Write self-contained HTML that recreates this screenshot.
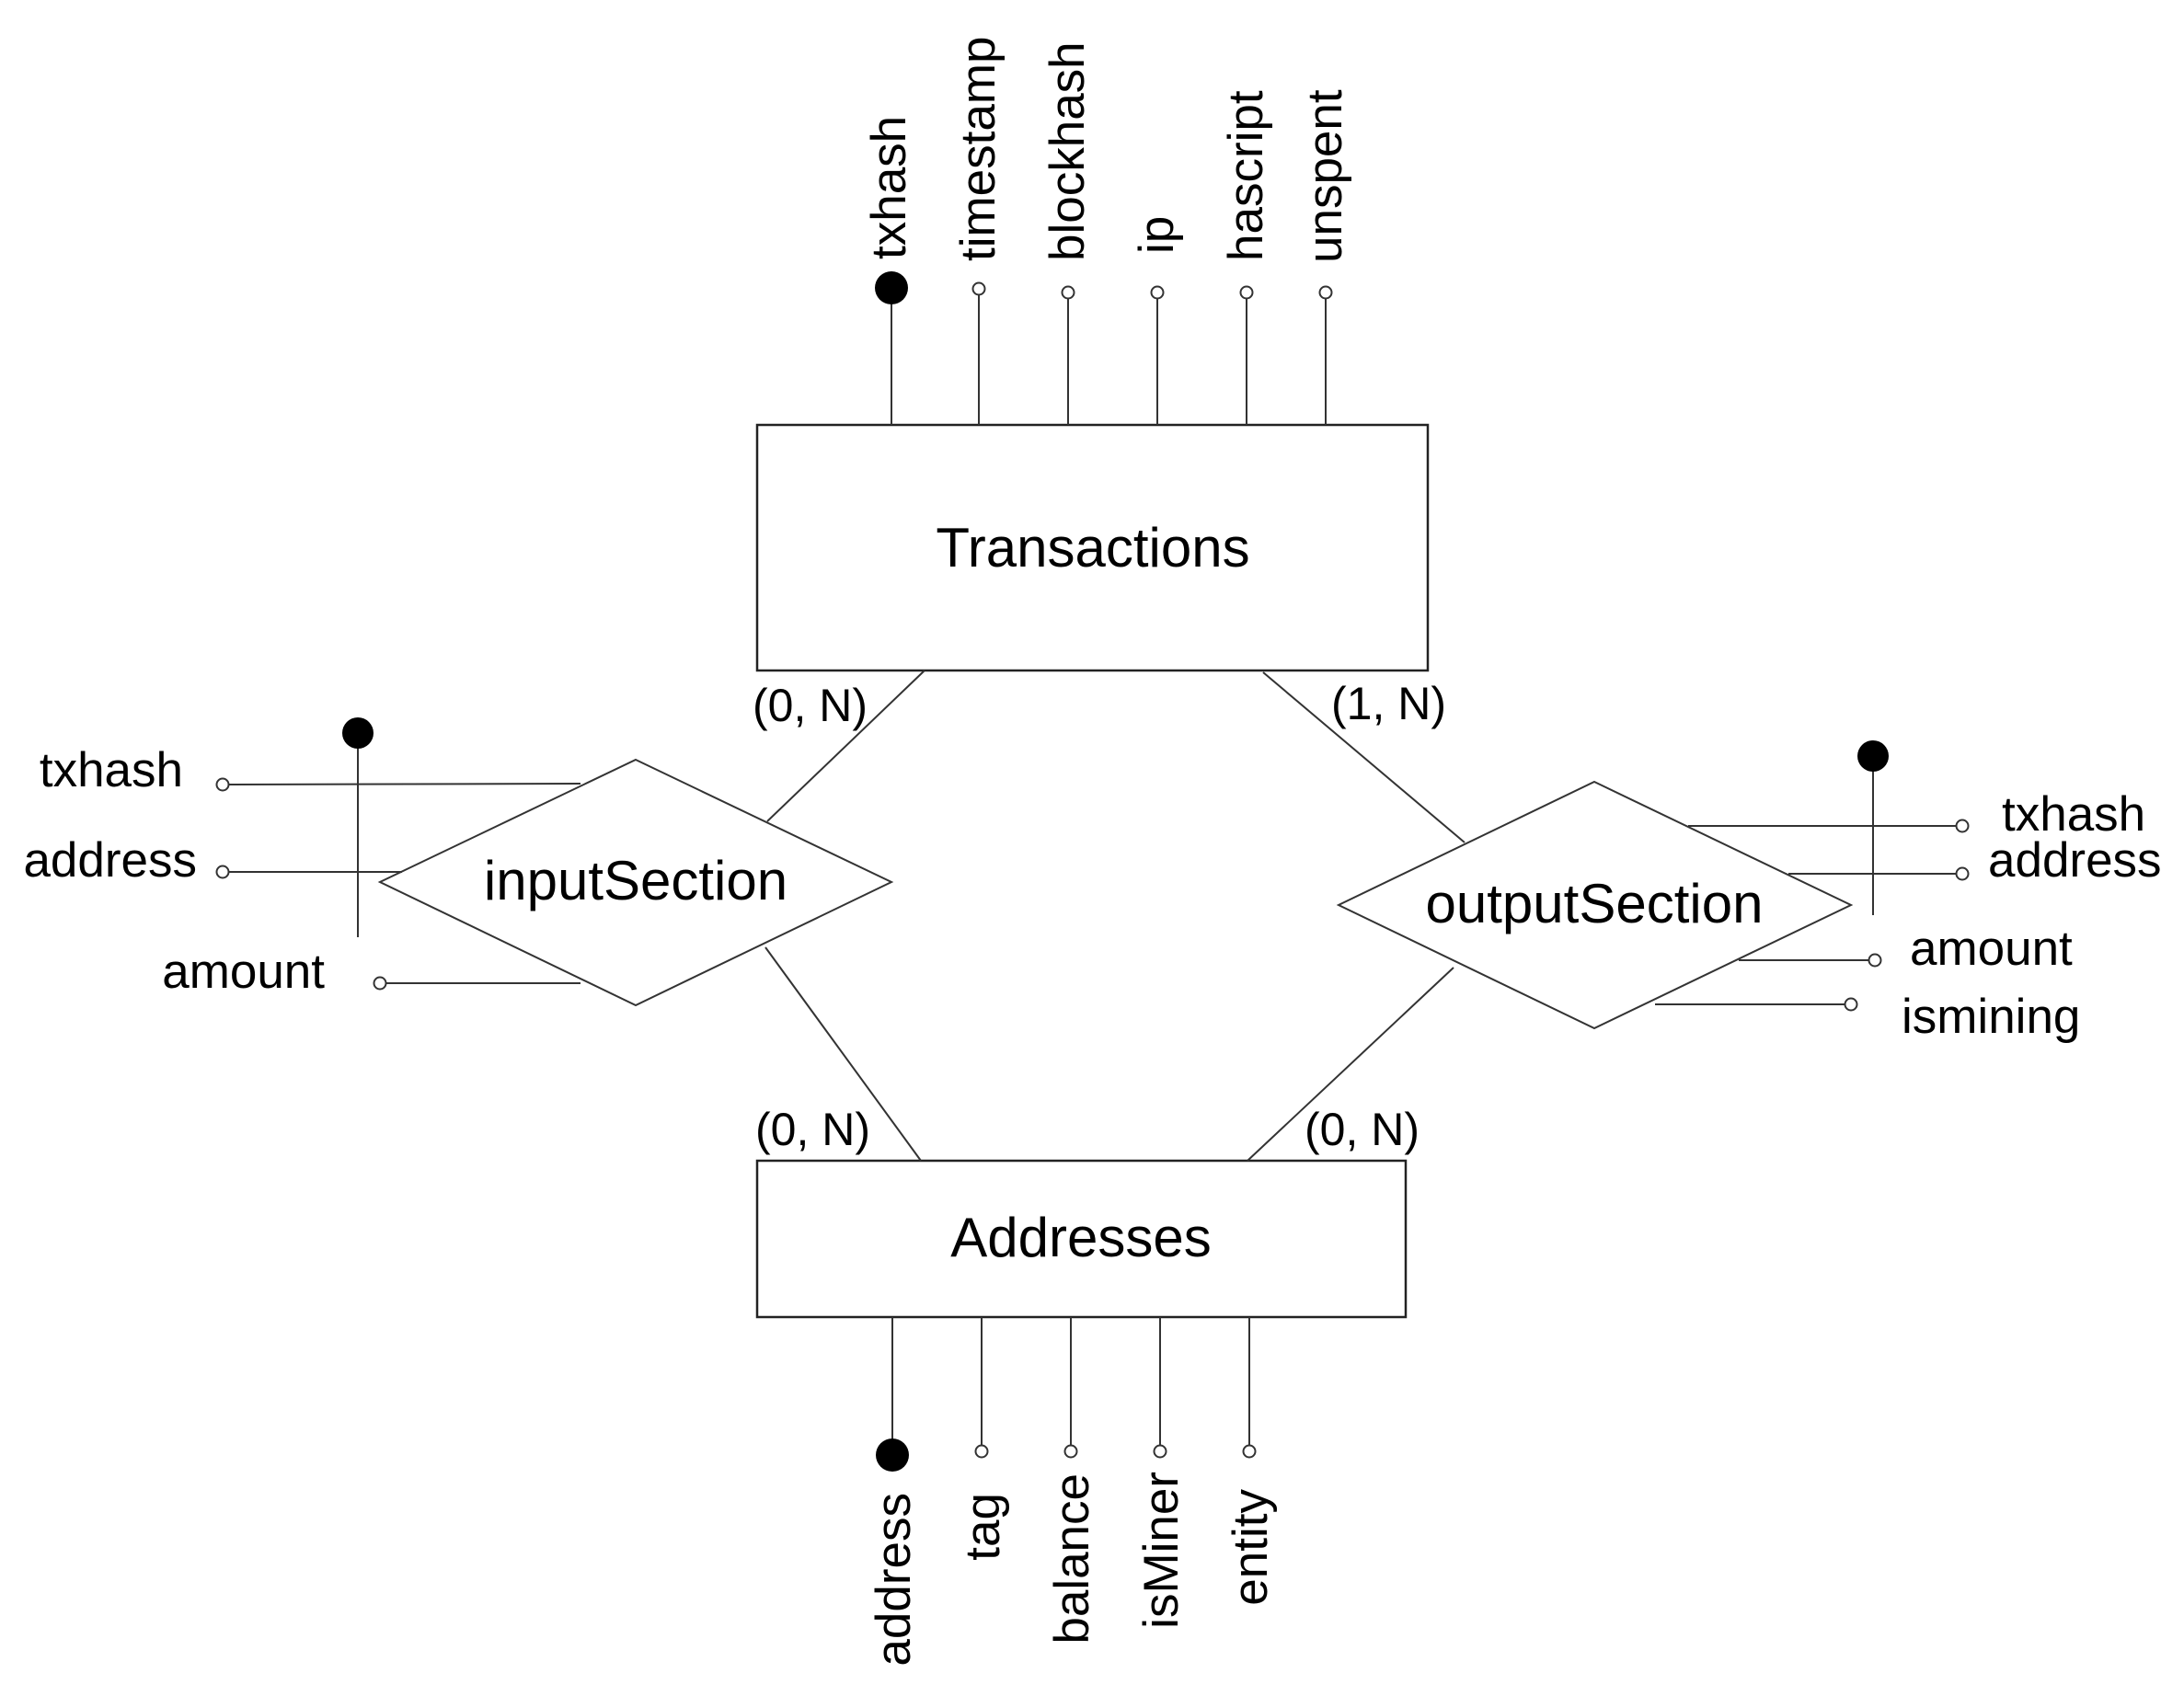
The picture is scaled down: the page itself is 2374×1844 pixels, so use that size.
<!DOCTYPE html>
<html><head><meta charset="utf-8"><style>
html,body{margin:0;padding:0;background:#fff;}
svg{display:block;}
text{font-family:"Liberation Sans",Arial,sans-serif;fill:#000;}
</style></head><body>
<svg width="2374" height="1844" viewBox="0 0 2374 1844" xmlns="http://www.w3.org/2000/svg">
<g stroke="#333" stroke-width="2" fill="none">
  <!-- Transactions -->
  <rect x="823" y="462" width="729" height="267" fill="#fff" stroke="#222" stroke-width="2.5"/>
  <line x1="969" y1="462" x2="969" y2="313"/>
  <line x1="1064" y1="462" x2="1064" y2="318"/>
  <line x1="1161" y1="462" x2="1161" y2="318"/>
  <line x1="1258" y1="462" x2="1258" y2="318"/>
  <line x1="1355" y1="462" x2="1355" y2="318"/>
  <line x1="1441" y1="462" x2="1441" y2="318"/>
  <!-- Addresses -->
  <rect x="823" y="1262" width="705" height="170" fill="#fff" stroke="#222" stroke-width="2.5"/>
  <line x1="970" y1="1432" x2="970" y2="1582"/>
  <line x1="1067" y1="1432" x2="1067" y2="1578"/>
  <line x1="1164" y1="1432" x2="1164" y2="1578"/>
  <line x1="1261" y1="1432" x2="1261" y2="1578"/>
  <line x1="1358" y1="1432" x2="1358" y2="1578"/>
  <!-- connectors -->
  <line x1="1005" y1="729" x2="834" y2="893"/>
  <line x1="832" y1="1030" x2="1001" y2="1262"/>
  <line x1="1373" y1="731" x2="1592" y2="916"/>
  <line x1="1580" y1="1052" x2="1356" y2="1262"/>
  <!-- diamonds -->
  <polygon points="691,826 969,959 691,1093 413,959" fill="#fff"/>
  <polygon points="1733,850 2012,984 1733,1118 1455,984" fill="#fff"/>
  <!-- input attrs -->
  <line x1="242" y1="853" x2="631" y2="852"/>
  <line x1="242" y1="948" x2="437" y2="948"/>
  <line x1="413" y1="1069" x2="631" y2="1069"/>
  <line x1="389" y1="797" x2="389" y2="1019"/>
  <!-- output attrs -->
  <line x1="1835" y1="898" x2="2133" y2="898"/>
  <line x1="1944" y1="950" x2="2133" y2="950"/>
  <line x1="1890" y1="1044" x2="2038" y2="1044"/>
  <line x1="1799" y1="1092" x2="2012" y2="1092"/>
  <line x1="2036" y1="822" x2="2036" y2="995"/>
</g>
<!-- circles -->
<g stroke="#333" stroke-width="2" fill="#fff">
  <circle cx="1064" cy="314" r="6.5"/>
  <circle cx="1161" cy="318" r="6.5"/>
  <circle cx="1258" cy="318" r="6.5"/>
  <circle cx="1355" cy="318" r="6.5"/>
  <circle cx="1441" cy="318" r="6.5"/>
  <circle cx="1067" cy="1578" r="6.5"/>
  <circle cx="1164" cy="1578" r="6.5"/>
  <circle cx="1261" cy="1578" r="6.5"/>
  <circle cx="1358" cy="1578" r="6.5"/>
  <circle cx="242" cy="853" r="6.5"/>
  <circle cx="242" cy="948" r="6.5"/>
  <circle cx="413" cy="1069" r="6.5"/>
  <circle cx="2133" cy="898" r="6.5"/>
  <circle cx="2133" cy="950" r="6.5"/>
  <circle cx="2038" cy="1044" r="6.5"/>
  <circle cx="2012" cy="1092" r="6.5"/>
</g>
<g fill="#000">
  <circle cx="969" cy="313" r="18"/>
  <circle cx="970" cy="1582" r="18"/>
  <circle cx="389" cy="797" r="17"/>
  <circle cx="2036" cy="822" r="17"/>
</g>
<!-- titles -->
<g font-size="60" text-anchor="middle">
  <text x="1188" y="616">Transactions</text>
  <text x="1175" y="1366">Addresses</text>
  <text x="691" y="978">inputSection</text>
  <text x="1733" y="1003">outputSection</text>
</g>
<!-- top vertical labels -->
<g font-size="53">
  <text transform="translate(984,282) rotate(-90)">txhash</text>
  <text transform="translate(1081,284) rotate(-90)">timestamp</text>
  <text transform="translate(1178,284) rotate(-90)">blockhash</text>
  <text transform="translate(1275,276) rotate(-90)">ip</text>
  <text transform="translate(1372,284) rotate(-90)">hascript</text>
  <text transform="translate(1458,286) rotate(-90)">unspent</text>
</g>
<!-- bottom vertical labels -->
<g font-size="53" text-anchor="end">
  <text transform="translate(989,1623) rotate(-90)">address</text>
  <text transform="translate(1086,1623) rotate(-90)">tag</text>
  <text transform="translate(1183,1602) rotate(-90)">balance</text>
  <text transform="translate(1280,1600) rotate(-90)">isMiner</text>
  <text transform="translate(1377,1619) rotate(-90)">entity</text>
</g>
<!-- side labels -->
<g font-size="53">
  <text x="199" y="855" text-anchor="end">txhash</text>
  <text x="214" y="953" text-anchor="end">address</text>
  <text x="353" y="1074" text-anchor="end">amount</text>
  <text x="2176" y="903">txhash</text>
  <text x="2161" y="953">address</text>
  <text x="2076" y="1049">amount</text>
  <text x="2067" y="1123">ismining</text>
</g>
<!-- cardinalities -->
<g font-size="50">
  <text x="818" y="784">(0, N)</text>
  <text x="1447" y="782">(1, N)</text>
  <text x="821" y="1245">(0, N)</text>
  <text x="1418" y="1245">(0, N)</text>
</g>
</svg>
</body></html>
